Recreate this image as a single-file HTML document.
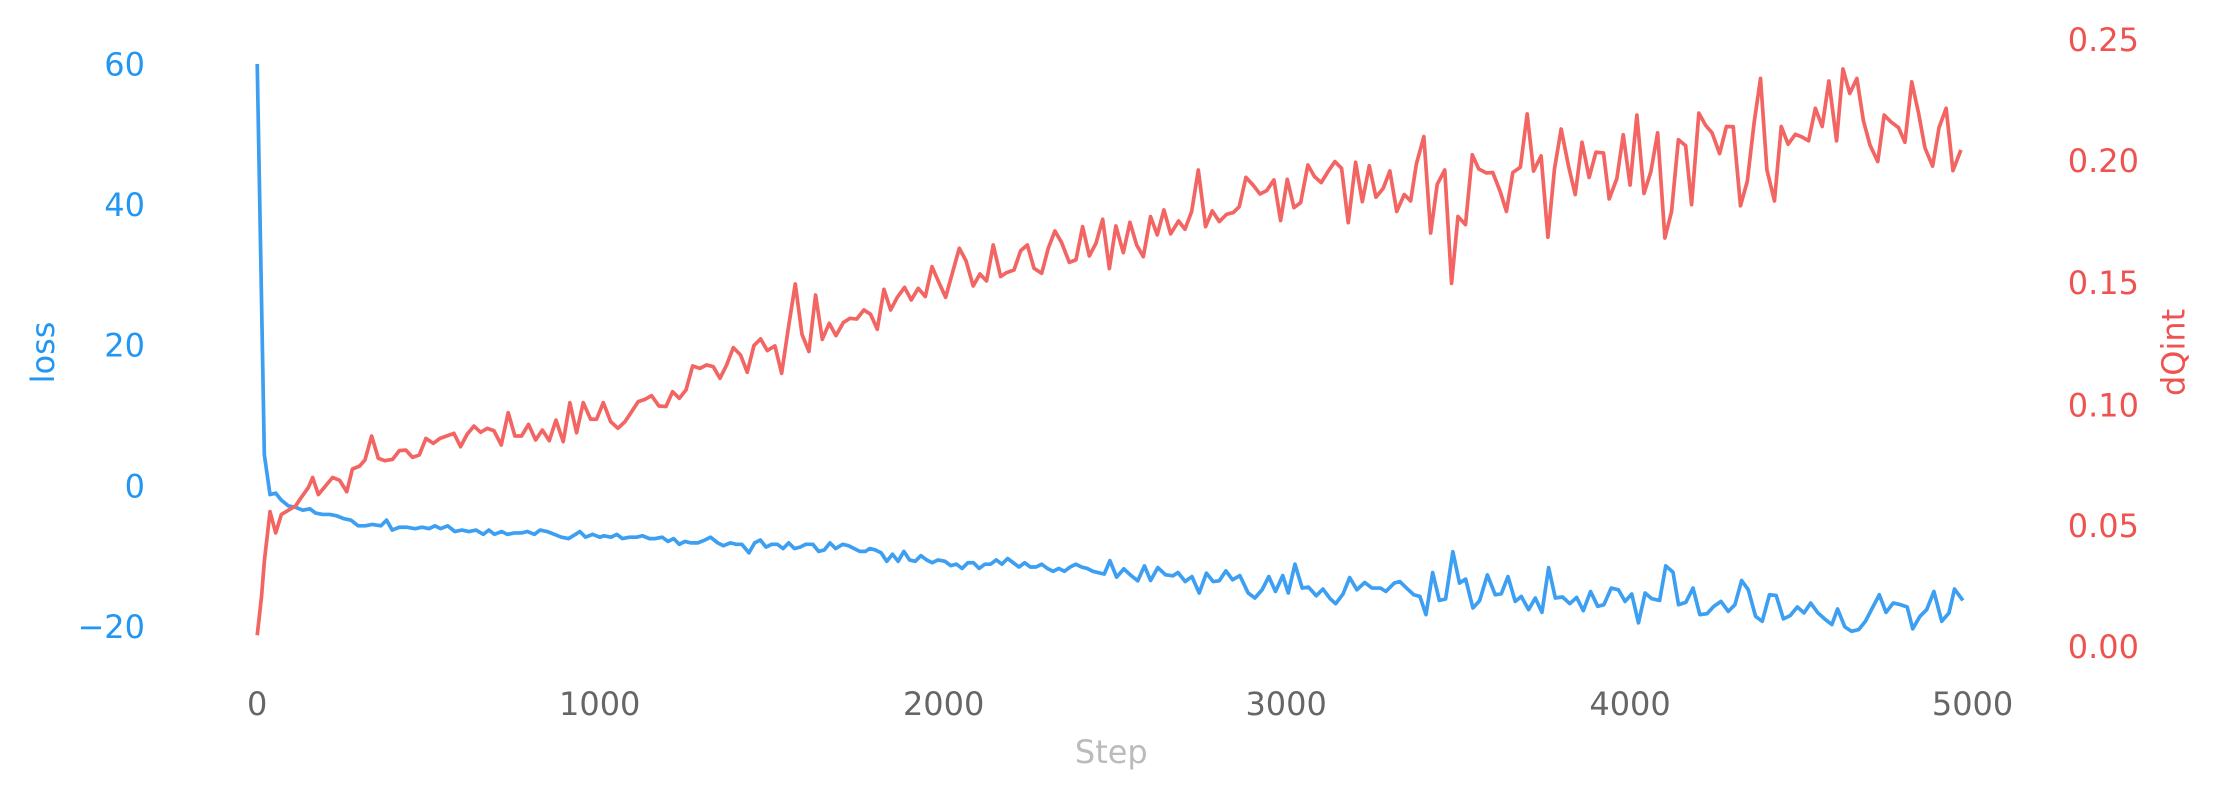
<!DOCTYPE html>
<html><head><meta charset="utf-8"><style>
html,body{margin:0;padding:0;background:#fff;}
svg{display:block;}
text{font-family:"DejaVu Sans","Liberation Sans",sans-serif;}
</style></head><body>
<svg id="s" width="2217" height="791" viewBox="0 0 1560 556.6" preserveAspectRatio="none" xmlns="http://www.w3.org/2000/svg">
<rect width="1560" height="556.6" fill="#fff"/>
<g font-size="22.5" fill="#2196f3" text-anchor="end">
<text x="102" y="53">60</text>
<text x="102" y="152">40</text>
<text x="102" y="251">20</text>
<text x="102" y="350">0</text>
<text x="102" y="449">−20</text>
</g>
<g font-size="22.5" fill="#ef5350" text-anchor="start">
<text x="1455" y="36">0.25</text>
<text x="1455" y="121">0.20</text>
<text x="1455" y="207">0.15</text>
<text x="1455" y="293">0.10</text>
<text x="1455" y="378">0.05</text>
<text x="1455" y="463">0.00</text>
</g>
<g font-size="22.5" fill="#666" text-anchor="middle">
<text x="181" y="503">0</text>
<text x="422" y="503">1000</text>
<text x="664" y="503">2000</text>
<text x="905" y="503">3000</text>
<text x="1147" y="503">4000</text>
<text x="1388" y="503">5000</text>
</g>
<text x="782" y="537" font-size="22.5" fill="#bbb" text-anchor="middle">Step</text>
<text transform="translate(38,248) rotate(-90)" font-size="22.5" fill="#2196f3" text-anchor="middle">loss</text>
<text transform="translate(1537,248) rotate(-90)" font-size="22.5" fill="#ef5350" text-anchor="middle">dQint</text>
<polyline id="blue" fill="none" stroke="#3d9ff2" stroke-width="2.6" stroke-linejoin="round" points=""/>
<polyline id="red" fill="none" stroke="#f26562" stroke-width="2.6" stroke-linejoin="round" points=""/>
</svg>
<script>
function tr(arr,ox,oy,k){var o=[];for(var i=0;i<arr.length;i+=2)o.push([ox+arr[i]*k,oy+arr[i+1]*k]);return o;}
function tr2(arr,ox,oy,kx,ky){var o=[];for(var i=0;i<arr.length;i+=2)o.push([ox+arr[i]*kx,oy+arr[i+1]*ky]);return o;}
var red=[];
var e=[181,447,184,420,186,395,190,360,194,375,198,362,203,359,208,356,212,350,217,343,220,336,224,348,229,342,234,336,239,338,244,346,248,330,253,328];
for(var i=0;i<e.length;i+=2)red.push([e[i],e[i+1]]);
var z1=[585,840,605,768,625,835,645,842,668,838,688,812,708,810,728,832,748,825,768,775,790,790,810,775,830,768,852,760,872,800,892,762,912,738,932,757,952,745,972,752,994,795,1015,698,1035,768,1055,768,1076,733,1097,780,1117,750,1138,782,1158,720,1180,785,1200,668,1220,758];
red=red.concat(tr(z1,119.6,126.7,1/4.264));
var z2=[10,968,32,1018,50,1018,70,968,92,1025,114,1045,135,1025,155,995,175,965,195,958,215,947,237,978,258,980,278,935,298,955,318,930,338,858,360,865,380,855,400,860,420,895,440,855,460,803,482,825,502,877,522,797,542,777,562,812,585,798,605,880,625,745,646,612,666,763,687,815,707,645,727,778,748,730,768,767,790,728,810,715,830,717,852,690,872,703,892,748,912,628,932,690,952,652,974,622,994,660,1015,625,1036,650,1056,560,1076,605,1097,652,1117,580,1138,505,1158,542,1180,618,1200,582,1220,603];
red=red.concat(tr(z2,408.1,56.3,1/4.264));
var z3=[10,645,32,740,50,728,72,720,92,662,112,645,132,715,155,730,175,655,195,603,215,638,238,697,258,690,278,590,298,678,318,640,338,568,358,716,378,588,400,668,420,577,440,645,460,680,482,560,502,615,522,540,542,612,566,573,585,598,605,545,625,420,647,590,667,543,688,575,710,553,730,548,748,530,768,442,790,466,810,492,830,482,852,450,872,572,892,448,912,533,932,518,954,405,974,440,994,458,1014,425,1035,395,1055,415,1075,578,1097,397,1117,515,1138,407,1158,502,1180,475,1200,423];
red=red.concat(tr(z3,696.6,21.1,1/4.264));
var z4=[18,480,38,435,55,452,70,355,90,282,108,537,125,408,145,370,163,670,180,493,200,515,218,330,235,367,255,378,272,377,292,428,308,480,325,377,345,363,363,222,380,373,400,333,418,548,435,368,453,262,472,358,490,435,508,297,527,390,545,323,565,325,580,447,600,393,617,277,635,410,653,225,672,432,690,375,708,272,727,550,745,480,763,290,782,306,798,462,817,220,835,252,852,272,872,327,890,255,908,256,927,465,945,400,963,245,980,128,997,370,1017,452,1035,255,1053,302,1072,276,1090,283,1107,293,1125,207,1143,255,1161,135,1181,293,1198,103,1216,168,1235,128,1252,240,1270,305,1290,348,1307,225,1325,243,1345,258,1362,297,1380,137,1398,220,1415,312,1435,360,1452,258,1471,207,1489,372,1510,317];
red=red.concat(tr(z4,978,21.1,0.2661));
var blue=[];
var b=[181,45,186,320,190,348,194,347,198,352,203,356,208,357,213,359,218,358,222,361,227,362,232,362,237,363,242,365,247,366,252,370,257,370,262,369,268,370,272,366,276,373,281,371,286,371,292,372,297,371,302,372,306,370,310,372,315,370,320,374,325,373,330,374,335,373,340,376,344,373,348,376,353,374,357,376,362,375,367,375,371,374,376,376,380,373,385,374,390,376,395,378,400,379,405,376,408,374,412,378,417,376,422,378,425,377,430,378,434,376,438,379,443,378,448,378,452,377,457,379,461,379,466,378,470,381,474,379,478,383,482,381,486,382,491,382,496,380,500,378,505,382,509,384,514,382,518,383,522,383,527,389,531,382,535,380,539,385,543,383,547,383,551,386,555,382,559,386,563,385,567,383,572,383,576,388,580,387,584,382,588,386,593,383,597,384,601,386,605,388,609,388,612,386,616,387,620,389,624,395,628,390,632,395,636,388,640,394,644,395,648,391,652,394,656,396,660,394,665,395,669,398,673,397,677,400,681,396,685,396,689,400,693,397,697,397,701,394,705,397,709,393,713,396,717,399,721,396,725,399,729,399,733,397,737,400,741,402,745,400,749,402,753,399,757,397,761,399,765,400,769,402,773,403,777,404];
for(var i=0;i<b.length;i+=2)blue.push([b[i],b[i+1]]);
var z6=[0,92,12,142,25,117,38,137,50,153,62,108,73,152,86,113,100,135,113,138,122,128,135,155,147,140,160,190,173,130,185,155,196,153,208,123,220,150,233,137,248,190,260,205,273,180,285,140,297,185,310,137,320,190,332,103,345,175,356,172,370,198,382,178,395,207,405,222,418,193,430,143,443,180,457,158,470,175,485,175,495,185,510,160,520,155,532,175,545,195,556,200,567,255,579,128,591,212,602,208,615,65,627,160,638,148,651,235,663,213,677,135,691,195,702,192,714,140,727,215,738,200,751,240,763,205,775,248,787,113,799,205,812,202,825,222,837,203,849,243,862,185,875,230,886,225,899,175,912,180,924,215,936,193,948,280,960,190,972,207,986,212,997,108,1010,127,1020,225,1033,218,1046,175,1058,255,1071,252,1083,230,1096,215,1109,245,1121,225,1133,152,1145,180,1158,260,1170,275,1183,195,1195,197,1208,268,1220,258,1233,232,1245,250,1257,220,1270,250,1282,268,1295,285,1305,238,1318,292,1330,305,1343,300,1355,275,1368,233,1380,195,1392,248,1405,220,1418,225,1430,232,1440,298,1453,260,1465,240,1478,185,1492,275,1505,250,1515,178,1530,212];
blue=blue.concat(tr2(z6,781,373,0.3923,0.2333));
function pts(a){return a.map(function(p){return p[0].toFixed(1)+","+p[1].toFixed(1);}).join(" ");}
document.getElementById("red").setAttribute("points",pts(red));
document.getElementById("blue").setAttribute("points",pts(blue));
</script>
</body></html>
